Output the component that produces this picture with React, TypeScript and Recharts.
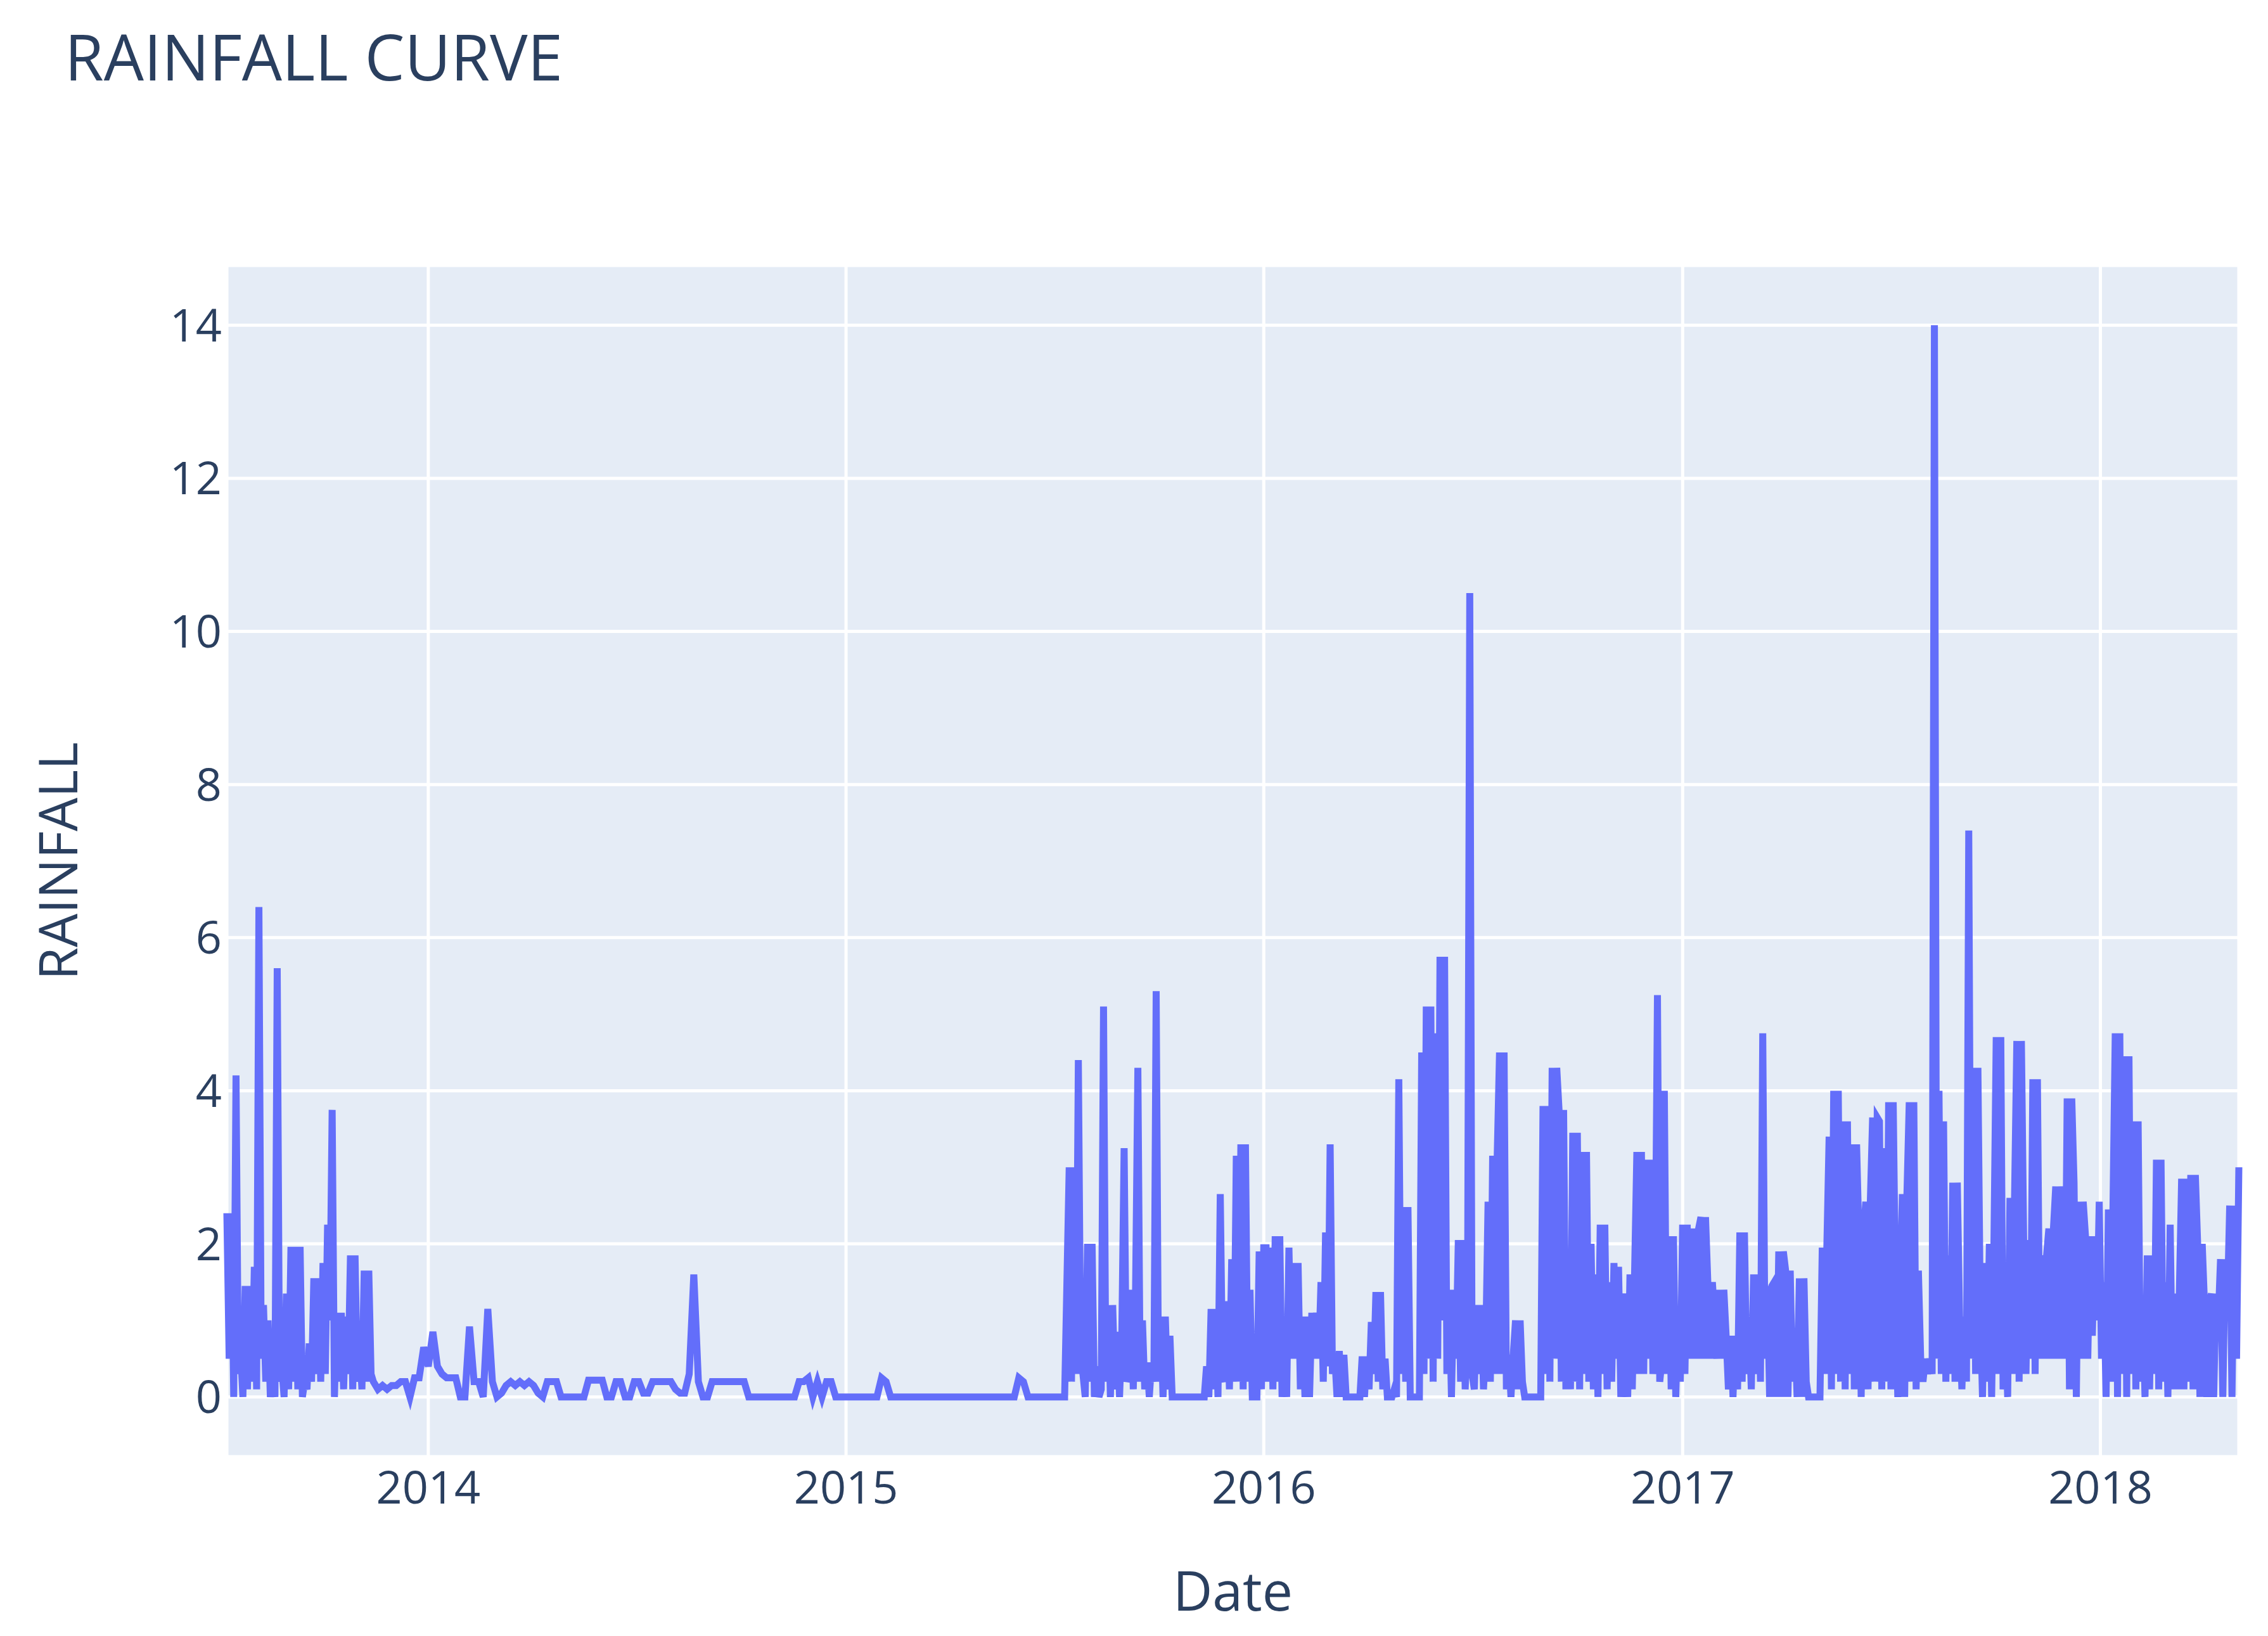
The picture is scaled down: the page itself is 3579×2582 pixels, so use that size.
import { LineChart, Line, XAxis, YAxis, CartesianGrid } from 'recharts'

const FONT = "'Open Sans', verdana, arial, sans-serif"
const TEXT_COLOR = '#2a3f5f'

// wet summer of 2013, one reading every 2 days from 2013-07-09
const rainSummer2013 = [
  2.4, 0.5, 2.4, 0, 4.2, 0.3, 0.6, 0, 1.45, 0.1,
  1.45, 0.2, 1.7, 0.1, 6.4, 0.5, 1.2, 0.2, 1.0, 0,
  0.3, 0, 5.6, 0.2, 0.4, 0, 1.35, 0.1, 1.96, 0.2,
  1.96, 0.1, 1.96, 0, 0.2, 0.1, 0.7, 0.2, 1.55, 0.3,
  1.55, 0.2, 1.75, 0.3, 2.25, 1.0, 3.75, 0, 1.1, 0.2,
  1.1, 0.1, 1.05, 0.3, 1.85, 0.1, 1.85, 0.2, 0.7, 0.1,
  1.65, 0.2, 1.65, 0.3,
]

// dry spell, one reading every 4 days from 2013-11-14
const rainLate2013 = [0.2, 0.1, 0.15, 0.1, 0.15, 0.15, 0.2, 0.2, 0, 0.25, 0.25, 0.65]
const rain2014 = [
  0.4, 0.85, 0.4, 0.3, 0.25, 0.25, 0.25, 0, 0, 0.92,
  0.2, 0.2, 0, 1.15, 0.2, 0, 0.05, 0.15, 0.2, 0.15,
  0.2, 0.15, 0.2, 0.15, 0.05, 0, 0.2, 0.2, 0.2, 0,
  0, 0, 0, 0, 0, 0.22, 0.22, 0.22, 0.22, 0,
  0, 0.2, 0.2, 0, 0, 0.2, 0.2, 0.05, 0.05, 0.2,
  0.2, 0.2, 0.2, 0.2, 0.1, 0.05, 0.05, 0.3, 1.6, 0.2,
  0, 0, 0.2, 0.2, 0.2, 0.2, 0.2, 0.2, 0.2, 0.2,
  0, 0, 0, 0, 0, 0, 0, 0, 0, 0,
  0, 0.2, 0.2, 0.25, 0, 0.2, 0, 0.2, 0.2, 0,
  0,
]
const rainEarly2015 = [
  0, 0, 0, 0, 0, 0, 0, 0, 0.25, 0.2,
  0, 0, 0, 0, 0, 0, 0, 0, 0, 0,
  0, 0, 0, 0, 0, 0, 0, 0, 0, 0,
  0, 0, 0, 0, 0, 0, 0, 0, 0.25, 0.2,
  0, 0, 0, 0, 0, 0, 0, 0, 0,
]

// wet years, one reading every 2 days from 2015-07-15
const rainLate2015 = [
  3.0, 0.2, 3.0, 0.3, 4.4, 0.5, 0.3, 0, 2.0, 0.2,
  2.0, 0, 0.4, 0, 0.1, 5.1, 0.2, 1.2, 0, 1.2,
  0.1, 0.85, 0, 0.85, 3.25, 0.2, 0.3, 1.4, 0.1, 1.4,
  4.3, 0.2, 1.0, 0.1, 0.45, 0, 0.45, 0.2, 5.3, 0.2,
  1.05, 0, 1.05, 0.1, 0.8, 0, 0, 0, 0, 0,
  0, 0, 0, 0, 0, 0, 0, 0, 0, 0,
  0.4, 0, 1.15, 0.1, 1.15, 0, 2.65, 0.3, 0.2, 1.25,
  0.1, 1.8, 0.2, 3.15, 0.2, 3.3, 0.1, 3.3, 0.2, 1.4,
  0, 0, 0, 1.9, 0.1, 1.95,
]
const rain2016 = [
  1.95, 0.2, 1.95, 0.1, 2.1, 0.2, 2.1, 0, 0.95, 0,
  1.95, 0.5, 1.75, 0.5, 1.75, 0.1, 1.05, 0, 1.05, 0,
  1.1, 0.5, 1.1, 0.5, 1.5, 0.2, 2.15, 0.4, 3.3, 0.3,
  0.55, 0, 0.6, 0, 0.55, 0, 0, 0, 0, 0,
  0, 0, 0.53, 0, 0.53, 0.1, 0.98, 0.3, 1.37, 0.2,
  1.37, 0.1, 0.5, 0, 0, 0, 0.1, 0, 4.15, 0.3,
  2.48, 0.2, 2.48, 0, 0, 0, 0, 0, 4.5, 0.3,
  5.1, 0.5, 5.1, 0.2, 4.75, 0.5, 5.75, 1.0, 5.75, 0.3,
  1.4, 0, 1.4, 0.5, 2.05, 0.2, 2.05, 0.1, 0.9, 10.5,
  0.3, 0.1, 1.2, 0.3, 1.2, 0.1, 0.7, 2.55, 0.2, 3.15,
  0.3, 3.15, 4.5, 0.3, 4.5, 0.1, 0.55, 0, 0.55, 1.0,
  0.1, 1.0, 0.2, 0, 0, 0, 0, 0, 0, 0,
  0, 3.8, 0.3, 3.8, 0.2, 4.3, 0.5, 4.3, 3.75, 0.2,
  3.75, 0.1, 1.7, 0.1, 3.45, 0.2, 3.45, 0.1, 3.2, 0.3,
  3.2, 0.2, 2.0, 0.1, 1.6, 0, 2.25, 0.3, 2.25, 0.1,
  1.5, 0.2, 1.75, 0.5, 1.7, 0, 1.1, 1.35, 0, 1.6,
  0.1, 1.6, 3.2, 0.3, 3.2, 0.3, 3.1, 0.5, 3.1, 0.3,
  1.4, 5.25, 0.2, 0.5, 4.0, 0.3, 2.1, 0.1, 2.1, 0,
  1.1, 0.2,
]
const rain2017 = [
  2.25, 0.3, 2.25, 0.5, 1.5, 2.2, 0.5, 2.2, 2.35, 0.5,
  2.35, 1.5, 0.5, 1.5, 1.0, 0.5, 1.4, 0.5, 1.4, 0.8,
  0.1, 0.8, 0, 0.8, 0.1, 2.15, 0.2, 2.15, 0.3, 1.0,
  0.1, 1.6, 0.3, 1.6, 0.2, 4.75, 0.5, 1.45, 0, 1.45,
  1.5, 0, 1.9, 0, 1.9, 1.65, 0, 1.65, 0.2, 0.9,
  0, 1.55, 0, 1.55, 0.2, 0, 0, 0, 0, 0,
  0, 1.95, 0.3, 1.95, 3.4, 0.1, 4.0, 0.3, 4.0, 0.2,
  3.6, 0.1, 3.6, 0.3, 3.3, 0.1, 3.3, 2.1, 0, 2.1,
  2.55, 0.1, 2.55, 3.65, 0.2, 3.65, 3.6, 0.1, 3.25, 0.2,
  3.85, 0.1, 3.85, 1.35, 0, 1.35, 2.65, 0, 2.65, 3.85,
  0.2, 3.85, 0.1, 1.65, 0.5, 0.2, 0.5, 0.3, 0.5, 0.3,
  14.0, 0.5, 4.0, 0.3, 3.6, 0.2, 1.85, 0.3, 2.8, 0.2,
  2.8, 1.05, 0.1, 1.05, 0.2, 7.4, 0.5, 4.3, 0.3, 4.3,
  1.2, 0, 1.75, 0.2, 2.0, 0, 2.0, 4.7, 0.3, 4.7,
  0.1, 0.9, 0, 2.6, 0.3, 2.6, 4.65, 0.2, 4.65, 2.05,
  0.3, 2.05, 0.5, 4.15, 0.3, 4.15, 0.5, 1.85, 0.5, 1.85,
  2.2, 0.5, 2.2, 2.75, 0.5, 2.75, 2.45, 0.5, 3.9, 0.1,
  3.9, 2.8, 0, 2.55, 0.5, 2.55, 2.1, 0.5, 2.1, 0.8,
  2.1, 1.0,
]
const rain2018 = [
  2.55, 0.5, 1.5, 0, 2.45, 0.2, 2.45, 4.75, 0, 4.75,
  0.3, 4.45, 0, 4.45, 0.3, 3.6, 0.1, 3.6, 0.2, 1.2,
  0, 1.85, 0.1, 1.85, 0.3, 3.1, 0.1, 3.1, 0.2, 1.5,
  0, 2.25, 0.1, 1.35, 0.1, 1.35, 2.85, 0.1, 2.85, 0.2,
  2.9, 0.1, 2.9, 2.0, 0, 2.0, 1.2, 0, 1.2, 1.35,
  0, 1.35, 1.0, 1.8, 0, 1.8, 1.2, 2.5, 0, 2.5,
  0.5, 3.0,
]

const yearTicks = [2014, 2015, 2016, 2017, 2018]
const rainfallTicks = [0, 2, 4, 6, 8, 10, 12, 14]

const DAY_MS = 24 * 60 * 60 * 1000

function buildSeries(start: string, stepDays: number, values: number[]) {
  const startMs = Date.parse(start + 'T00:00:00Z')
  return values.map((value, i) => ({ date: startMs + i * stepDays * DAY_MS, rainfall: value }))
}

const chartData = [
  ...buildSeries('2013-07-09', 2, rainSummer2013),
  ...buildSeries('2013-11-14', 4, [...rainLate2013, ...rain2014, ...rainEarly2015]),
  ...buildSeries('2015-07-15', 2, [...rainLate2015, ...rain2016, ...rain2017, ...rain2018]),
]

const xTicks = yearTicks.map((y) => Date.UTC(y, 0, 1))

function DateLabel(props: any) {
  const { viewBox } = props
  const cx = viewBox.x + viewBox.width / 2
  return (
    <text x={cx} y={viewBox.y + 243} textAnchor="middle" fill={TEXT_COLOR} fontSize={86} fontFamily={FONT}>
      Date
    </text>
  )
}

function RainfallLabel(props: any) {
  const { viewBox } = props
  const cy = viewBox.y + viewBox.height / 2
  const x = 122
  return (
    <text
      x={x}
      y={cy}
      transform={`rotate(-90, ${x}, ${cy})`}
      textAnchor="middle"
      fill={TEXT_COLOR}
      fontSize={84}
      fontFamily={FONT}
    >
      RAINFALL
    </text>
  )
}

export default function App() {
  return (
    <div style={{ position: 'absolute', left: 0, top: 0, width: 3579, height: 2582, background: '#fff' }}>
      <svg width={3579} height={200} style={{ position: 'absolute', left: 0, top: 0 }}>
        <text x={102} y={127} fill={TEXT_COLOR} fontSize={100} fontFamily={FONT}>
          RAINFALL CURVE
        </text>
      </svg>
      <LineChart
        width={3579}
        height={2582}
        data={chartData}
        margin={{ top: 419, right: 46, bottom: 83, left: 158 }}
      >
        <CartesianGrid stroke="#ffffff" strokeWidth={5} fill="#E5ECF6" fillOpacity={1} />
        <XAxis
          dataKey="date"
          type="number"
          domain={['dataMin', 'dataMax']}
          ticks={xTicks}
          interval={0}
          tickFormatter={(t: number) => String(new Date(t).getUTCFullYear())}
          tick={{ fill: TEXT_COLOR, fontSize: 72, fontFamily: FONT }}
          tickLine={false}
          axisLine={false}
          tickSize={0}
          tickMargin={23}
          height={200}
          label={<DateLabel />}
        />
        <YAxis
          type="number"
          domain={[-0.78, 14.78]}
          ticks={rainfallTicks}
          interval={0}
          tick={{ fill: TEXT_COLOR, fontSize: 72, fontFamily: FONT }}
          tickLine={false}
          axisLine={false}
          tickSize={0}
          tickMargin={8}
          width={200}
          label={<RainfallLabel />}
        />
        <Line
          type="linear"
          dataKey="rainfall"
          stroke="#636efa"
          strokeWidth={11}
          dot={false}
          activeDot={false}
          isAnimationActive={false}
        />
      </LineChart>
    </div>
  )
}
